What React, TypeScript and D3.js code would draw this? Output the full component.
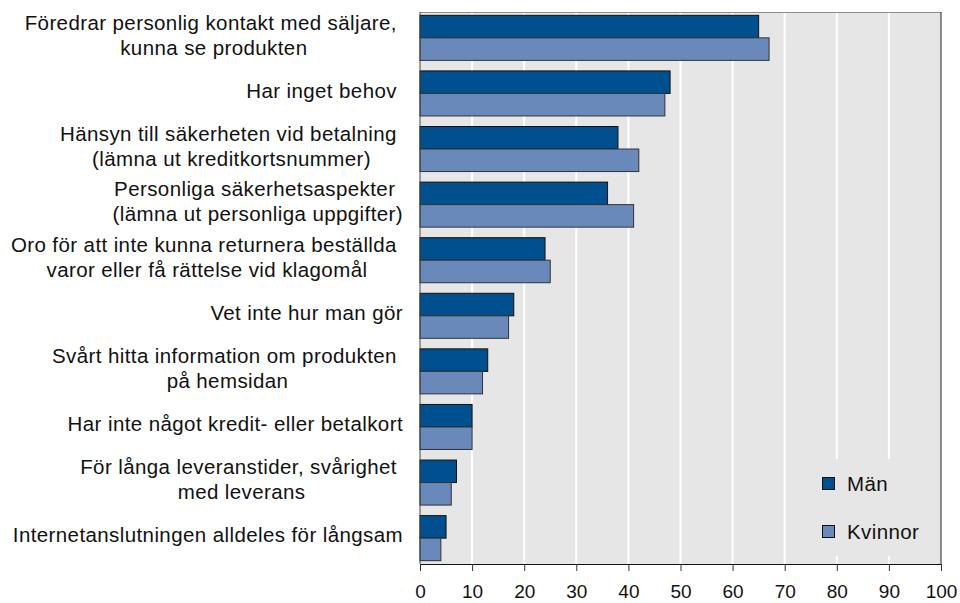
import React, { useRef, useEffect } from 'react';
import * as d3 from 'd3';

// category labels, one array of lines per category (trailing spaces as in the source sheet)
const categories: string[][] = [
  ['Föredrar personlig kontakt med säljare, ', 'kunna se produkten'],
  ['Har inget behov '],
  ['Hänsyn till säkerheten vid betalning ', '(lämna ut kreditkortsnummer)'],
  ['Personliga säkerhetsaspekter ', '(lämna ut personliga uppgifter)'],
  ['Oro för att inte kunna returnera beställda ', 'varor eller få rättelse vid klagomål'],
  ['Vet inte hur man gör'],
  ['Svårt hitta information om produkten ', 'på hemsidan'],
  ['Har inte något kredit- eller betalkort'],
  ['För långa leveranstider, svårighet ', 'med leverans'],
  ['Internetanslutningen alldeles för långsam'],
];

const man = [65, 48, 38, 36, 24, 18, 13, 10, 7, 5];
const kvinnor = [67, 47, 42, 41, 25, 17, 12, 10, 6, 4];

const seriesNames = ['Män', 'Kvinnor'];
const xTicks = [0, 10, 20, 30, 40, 50, 60, 70, 80, 90, 100];

const FONT = '"Liberation Sans", Arial, sans-serif';
const COLORS = ['#00508f', '#6889b9'];

const App = () => {
  const svgRef = useRef<SVGSVGElement>(null);

  useEffect(() => {
    const svg = d3.select(svgRef.current);
    svg.selectAll('*').remove();

    const left = 420, right = 941, top = 12, bottom = 564;
    const ids = categories.map((_, i) => String(i));

    const x = d3.scaleLinear().domain([0, 100]).range([left, right]);
    const y = d3.scaleBand().domain(ids).range([top, bottom]).paddingInner(0.19).paddingOuter(0.06);
    const ySub = d3.scaleBand().domain(seriesNames).range([0, y.bandwidth()]);

    // plot background
    svg.append('rect')
      .attr('x', left).attr('y', top)
      .attr('width', right - left).attr('height', bottom - top)
      .attr('fill', '#e6e6e6');

    // white gridlines
    svg.append('g')
      .selectAll('line')
      .data(xTicks.slice(1, -1))
      .enter().append('line')
      .attr('x1', d => x(d)).attr('x2', d => x(d))
      .attr('y1', top).attr('y2', bottom)
      .attr('stroke', '#fff')
      .attr('stroke-width', 2);

    // legend box hides the gridlines behind it
    svg.append('rect')
      .attr('x', 796).attr('y', 459)
      .attr('width', 144).attr('height', 97)
      .attr('fill', '#e6e6e6');

    // bars
    const values = [man, kvinnor];
    seriesNames.forEach((name, s) => {
      svg.append('g')
        .selectAll('rect')
        .data(values[s])
        .enter().append('rect')
        .attr('x', x(0))
        .attr('y', (_, i) => (y(String(i)) as number) + (ySub(name) as number))
        .attr('width', d => x(d) - x(0))
        .attr('height', ySub.bandwidth())
        .attr('fill', COLORS[s])
        .attr('stroke', s === 0 ? '#111' : '#333')
        .attr('stroke-width', 1);
    });

    // frame
    svg.append('line')
      .attr('x1', left).attr('x2', right).attr('y1', top + 0.5).attr('y2', top + 0.5)
      .attr('stroke', '#8c8c8c');
    svg.append('line')
      .attr('x1', right).attr('x2', right).attr('y1', top).attr('y2', bottom)
      .attr('stroke', '#222');
    svg.append('line')
      .attr('x1', left).attr('x2', left).attr('y1', top).attr('y2', bottom)
      .attr('stroke', '#444');

    // x axis
    const xAxis = d3.axisBottom(x).tickValues(xTicks).tickSize(7).tickSizeOuter(0).tickPadding(14);
    const ax = svg.append('g')
      .attr('transform', `translate(0,${bottom})`)
      .call(xAxis);
    ax.select('.domain').attr('stroke', '#111');
    ax.selectAll('.tick line').attr('stroke', '#333');
    ax.selectAll('.tick text')
      .attr('font-family', FONT)
      .attr('font-size', 19)
      .attr('fill', '#111');

    // category labels: lines centred on each other, block right-aligned
    const labelRight = 403;
    const lineH = 25;
    categories.forEach((lines, i) => {
      const cy = (y(String(i)) as number) + y.bandwidth() / 2 - 3;
      const g = svg.append('g');
      const texts = g.selectAll('text')
        .data(lines)
        .enter().append('text')
        .attr('font-family', FONT)
        .attr('font-size', 20.5)
        .attr('letter-spacing', 0.4)
        .attr('fill', '#111')
        .attr('text-anchor', 'middle')
        .style('white-space', 'pre')
        .attr('y', (_, j) => cy + (j - (lines.length - 1) / 2) * lineH)
        .attr('dy', '0.35em')
        .text(d => d);
      let maxW = 0;
      texts.each(function () {
        maxW = Math.max(maxW, (this as SVGTextElement).getComputedTextLength());
      });
      texts.attr('x', labelRight - maxW / 2);
    });

    // legend
    const legend = svg.append('g');
    seriesNames.forEach((name, s) => {
      const ly = 484 + s * 48;
      legend.append('rect')
        .attr('x', 822.5).attr('y', ly - 6.5)
        .attr('width', 12).attr('height', 12)
        .attr('fill', COLORS[s])
        .attr('stroke', '#111');
      legend.append('text')
        .attr('x', 847).attr('y', ly)
        .attr('dy', '0.35em')
        .attr('font-family', FONT)
        .attr('font-size', 20.5)
        .attr('letter-spacing', 0.4)
        .attr('fill', '#111')
        .text(name);
    });
  }, []);

  return (
    <svg ref={svgRef} width={960} height={603}
      style={{ position: 'absolute', left: 0, top: 0, background: '#fff' }} />
  );
};

export default App;
